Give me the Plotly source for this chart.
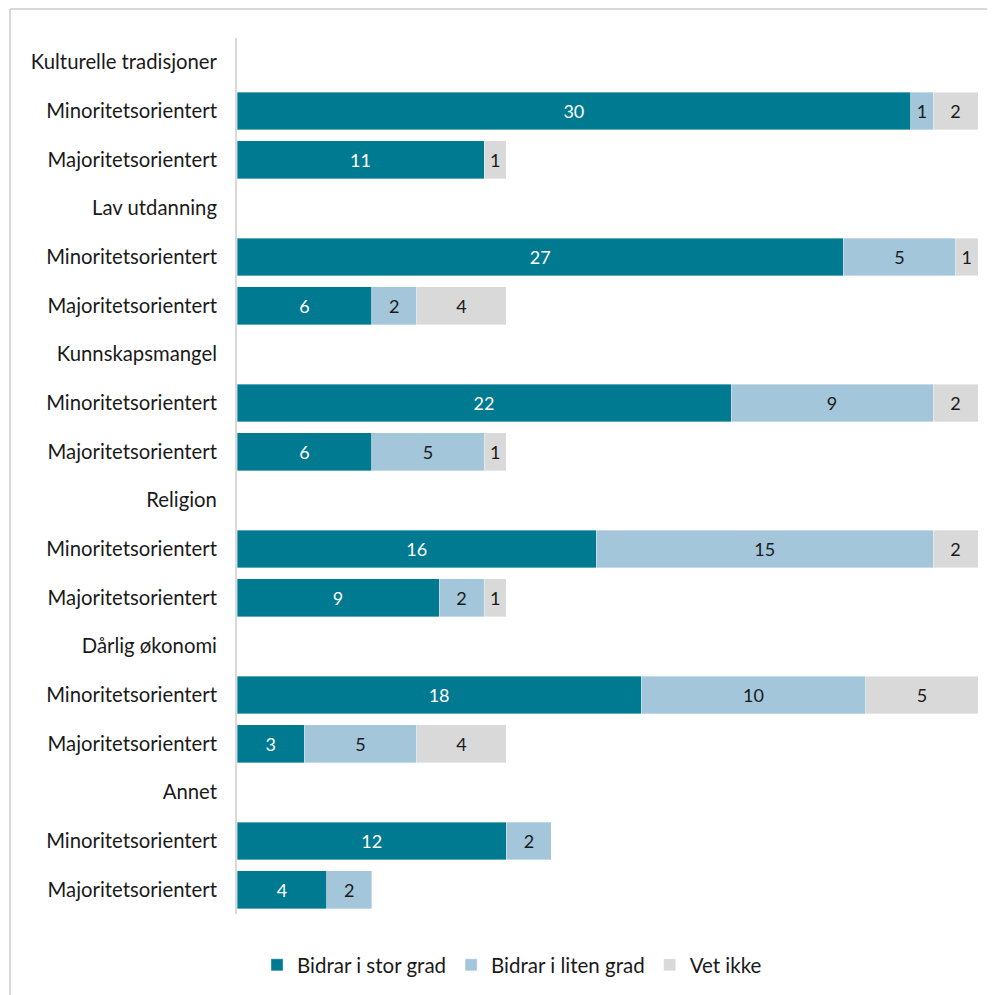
import plotly.graph_objects as go

groups = ["Kulturelle tradisjoner", "Lav utdanning", "Kunnskapsmangel", "Religion", "Dårlig økonomi", "Annet"]
subgroups = ["Minoritetsorientert", "Majoritetsorientert"]
series_names = ["Bidrar i stor grad", "Bidrar i liten grad", "Vet ikke"]

# values per group: [Minoritetsorientert, Majoritetsorientert]
stor_grad = [[30, 11], [27, 6], [22, 6], [16, 9], [18, 3], [12, 4]]
liten_grad = [[1, 0], [5, 2], [9, 5], [15, 2], [10, 5], [2, 2]]
vet_ikke = [[2, 1], [1, 4], [2, 1], [2, 1], [5, 4], [0, 0]]

colors = ["#007A91", "#A3C6DA", "#D9D9D9"]
text_colors = ["white", "#1a1a1a", "#1a1a1a"]

# build rows: header row + two subgroup rows per group
tick_text = []
row_vals = {0: [], 1: [], 2: []}
for gi, g in enumerate(groups):
    tick_text.append(g)
    for k in range(3):
        row_vals[k].append(None)
    for si, s in enumerate(subgroups):
        tick_text.append(s)
        for k, src in enumerate([stor_grad, liten_grad, vet_ikke]):
            row_vals[k].append(src[gi][si])

n = len(tick_text)
ypos = list(range(n))

fig = go.Figure()
for k in range(3):
    vals = row_vals[k]
    xs = [v if v else None for v in vals]
    txt = [str(v) if v else "" for v in vals]
    fig.add_trace(go.Bar(
        x=xs, y=ypos, orientation="h", name=series_names[k],
        marker=dict(color=colors[k], line=dict(color="rgba(255,255,255,0.6)", width=0.6)),
        text=txt, textposition="inside", insidetextanchor="middle",
        textfont=dict(color=text_colors[k], size=18),
        width=0.78, hoverinfo="skip",
    ))

# page offset of 8px (body margin) -> figure is 987 wide, starting at (8, 8)
OFF = 8
W, H = 995 - OFF, 995 - OFF
l, r, t, b = 237 - OFF, 17, 38 - OFF, 81
pw, ph = W - l - r, H - t - b

def px_x(p):
    return (p - OFF - l) / pw

def px_y(p):
    return (H - b - (p - OFF)) / ph

border = dict(color="#d9d9d9", width=2)
# top edge of the outer frame
fig.add_shape(type="line", xref="paper", yref="paper",
              x0=px_x(10), x1=px_x(1010), y0=px_y(9), y1=px_y(9), line=border, layer="below")
# left edge of the outer frame
fig.add_shape(type="line", xref="paper", yref="paper",
              x0=px_x(10), x1=px_x(10), y0=px_y(9), y1=px_y(1010), line=border, layer="below")

fig.update_layout(
    width=W, height=H, barmode="stack",
    margin=dict(l=l, r=r, t=t, b=b, autoexpand=False),
    plot_bgcolor="white", paper_bgcolor="white",
    font=dict(family="Lato, Noto Sans, sans-serif", size=20.3, color="#1a1a1a"),
    uniformtext=dict(minsize=18, mode="show"),
    xaxis=dict(range=[0, 33], showgrid=False, zeroline=False, showticklabels=False, showline=False, fixedrange=True),
    yaxis=dict(tickvals=ypos, ticktext=tick_text,
               showgrid=False, zeroline=False, showline=True, linecolor="#d9d9d9", linewidth=2,
               ticks="", ticklabelstandoff=14),
    legend=dict(orientation="h", x=px_x(512), xanchor="center", y=px_y(965), yanchor="middle",
                font=dict(size=20.5), traceorder="normal", itemwidth=30),
    bargap=0.22,
)
fig.update_yaxes(range=[n - 0.5, -0.5], autorange=False)

fig.write_html("out.html")
